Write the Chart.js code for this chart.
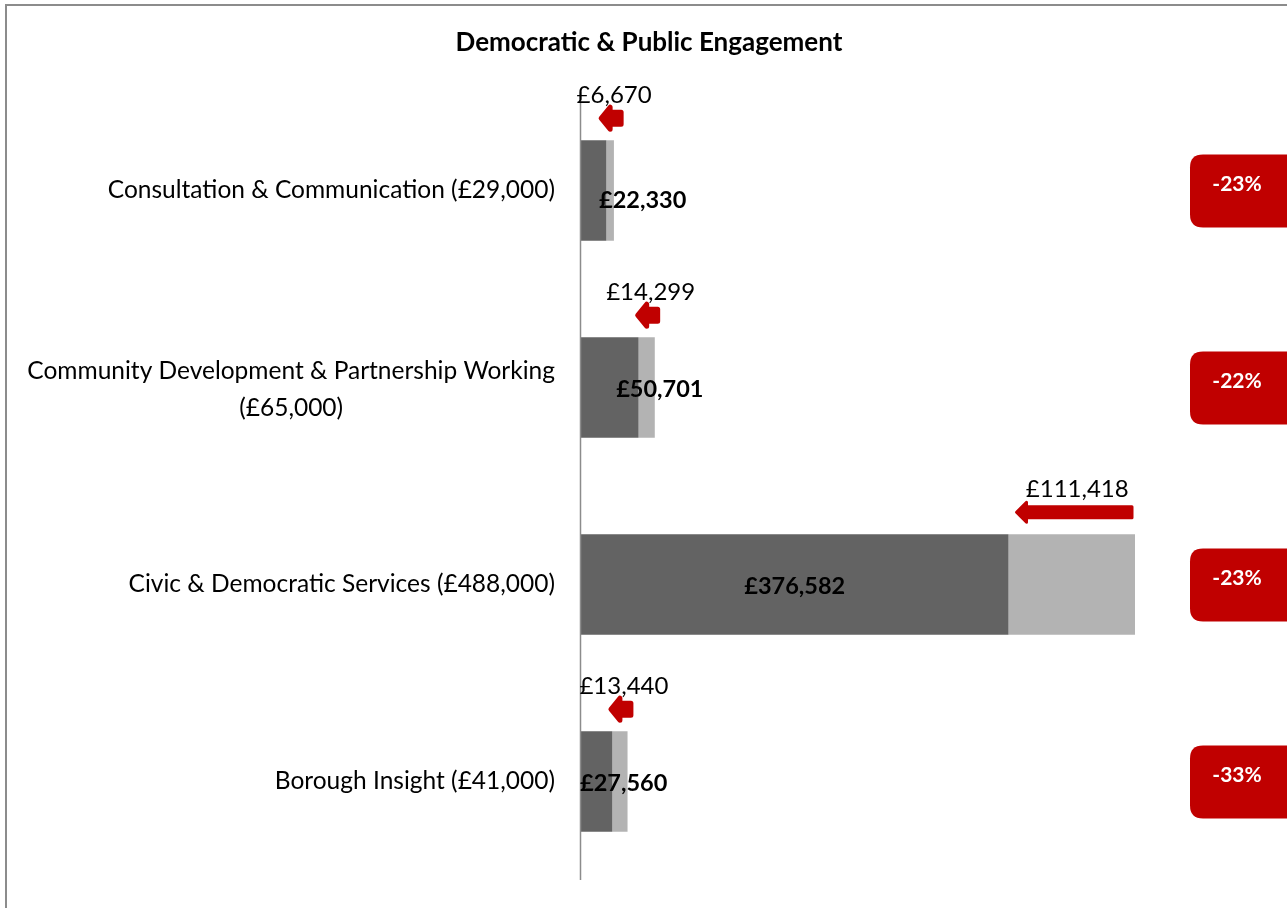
<!DOCTYPE html>
<html>
<head>
<meta charset="utf-8">
<title>Democratic &amp; Public Engagement</title>
<script src="https://cdn.jsdelivr.net/npm/chart.js@4.4.1/dist/chart.umd.min.js"></script>
<style>
  html, body { margin: 0; padding: 0; background: #fff; }
  .wrap { position: relative; width: 1287px; height: 908px; }
</style>
</head>
<body>
<div class="wrap">
  <canvas id="chart"></canvas>
</div>
<script>
const categories = [
  "Consultation & Communication (£29,000)",
  ["Community Development & Partnership Working", "(£65,000)"],
  "Civic & Democratic Services (£488,000)",
  "Borough Insight (£41,000)",
];
const budgets = [29000, 65000, 488000, 41000];
const remaining = [22330, 50701, 376582, 27560];
const savings = [6670, 14299, 111418, 13440];

const FONT = "Lato, 'Open Sans', sans-serif";
const RED = "#c00000";
const gbp = (v) => "£" + v.toLocaleString("en-GB");

// nudges for the bold labels so they clear the axis on the thin bars
const labelShift = [49, 50, 0, 27];

function arrow(ctx, x0, x1, y, small) {
  const body = small ? 12 : 11;
  const head = small ? 11 : 10;
  const len = small ? 9 : 10;
  ctx.beginPath();
  ctx.moveTo(x0, y);
  ctx.lineTo(x0 + len, y - head);
  ctx.lineTo(x0 + len, y - body / 2);
  ctx.lineTo(x1, y - body / 2);
  ctx.lineTo(x1, y + body / 2);
  ctx.lineTo(x0 + len, y + body / 2);
  ctx.lineTo(x0 + len, y + head);
  ctx.closePath();
  ctx.fillStyle = RED;
  ctx.strokeStyle = RED;
  ctx.lineWidth = small ? 5 : 3;
  ctx.lineJoin = "round";
  ctx.fill();
  ctx.stroke();
}

function roundBox(ctx, x, y, w, h, r) {
  ctx.beginPath();
  ctx.moveTo(x + r, y);
  ctx.lineTo(x + w - r, y);
  ctx.quadraticCurveTo(x + w, y, x + w, y + r);
  ctx.lineTo(x + w, y + h - r);
  ctx.quadraticCurveTo(x + w, y + h, x + w - r, y + h);
  ctx.lineTo(x + r, y + h);
  ctx.quadraticCurveTo(x, y + h, x, y + h - r);
  ctx.lineTo(x, y + r);
  ctx.quadraticCurveTo(x, y, x + r, y);
  ctx.closePath();
}

const decorations = {
  id: "decorations",
  beforeDraw(chart) {
    const ctx = chart.ctx;
    ctx.save();
    ctx.strokeStyle = "#8c8c8c";
    ctx.lineWidth = 2;
    ctx.strokeRect(6, 5, 1400, 1000);
    ctx.restore();
  },
  afterDatasetsDraw(chart) {
    const ctx = chart.ctx;
    const ys = chart.scales.y;
    const area = chart.chartArea;
    ctx.save();

    // axis line
    ctx.strokeStyle = "#8c8c8c";
    ctx.lineWidth = 1.5;
    ctx.beginPath();
    ctx.moveTo(area.left - 0.5, area.top);
    ctx.lineTo(area.left - 0.5, area.bottom);
    ctx.stroke();

    // title
    ctx.fillStyle = "#000";
    ctx.font = "bold 26px " + FONT;
    ctx.textAlign = "center";
    ctx.textBaseline = "middle";
    ctx.fillText("Democratic & Public Engagement", 649, 43);

    const darkMeta = chart.getDatasetMeta(0).data;
    const lightMeta = chart.getDatasetMeta(1).data;

    categories.forEach((cat, i) => {
      const cy = ys.getPixelForValue(i);

      // category label
      ctx.fillStyle = "#000";
      ctx.font = "24.5px " + FONT;
      if (Array.isArray(cat)) {
        const w = Math.max(...cat.map((t) => ctx.measureText(t).width));
        ctx.textAlign = "center";
        cat.forEach((t, k) => ctx.fillText(t, 555 - w / 2, cy - 16 + k * 37));
      } else {
        ctx.textAlign = "right";
        ctx.fillText(cat, 555, cy);
      }

      // bold remaining value
      const dark = darkMeta[i];
      const darkCentre = (dark.base + dark.x) / 2;
      ctx.textAlign = "center";
      ctx.font = "bold 23.5px " + FONT;
      ctx.fillText(gbp(remaining[i]), darkCentre + labelShift[i], cy + (i === 0 ? 10 : 2));

      // saving arrow and its label
      const light = lightMeta[i];
      const top = cy - dark.height / 2;
      let a0 = light.base, a1 = light.x;
      const mid = (a0 + a1) / 2;
      const small = a1 - a0 < 24;
      if (small) { a0 = mid - 9; a1 = mid + 11; }
      else { a0 += 8; a1 -= 3; }
      const ay = top - 22;
      arrow(ctx, a0, a1, ay, small);
      ctx.font = "24px " + FONT;
      ctx.fillStyle = "#000";
      ctx.fillText(gbp(savings[i]), (a0 + a1) / 2 + 3, ay - 23);

      // percentage badge
      const pct = -Math.round((savings[i] / budgets[i]) * 100);
      roundBox(ctx, 1190, cy - 36, 110, 73, 13);
      ctx.fillStyle = RED;
      ctx.fill();
      ctx.fillStyle = "#fff";
      ctx.font = "bold 21px " + FONT;
      ctx.fillText(pct + "%", 1237, cy - 6);
    });
    ctx.restore();
  },
};

new Chart(document.getElementById("chart"), {
  type: "bar",
  data: {
    labels: categories,
    datasets: [
      { label: "Remaining", data: remaining, backgroundColor: "#636363" },
      { label: "Saving", data: savings, backgroundColor: "#b3b3b3" },
    ],
  },
  options: {
    indexAxis: "y",
    responsive: true,
    maintainAspectRatio: false,
    animation: false,
    layout: { padding: { left: 581, right: 152, top: 92, bottom: 28 } },
    datasets: { bar: { barPercentage: 0.51, categoryPercentage: 1 } },
    scales: {
      x: { display: false, stacked: true, min: 0, max: Math.max(...budgets) },
      y: { display: false, stacked: true },
    },
    plugins: { legend: { display: false }, tooltip: { enabled: false } },
  },
  plugins: [decorations],
});
</script>
</body>
</html>
